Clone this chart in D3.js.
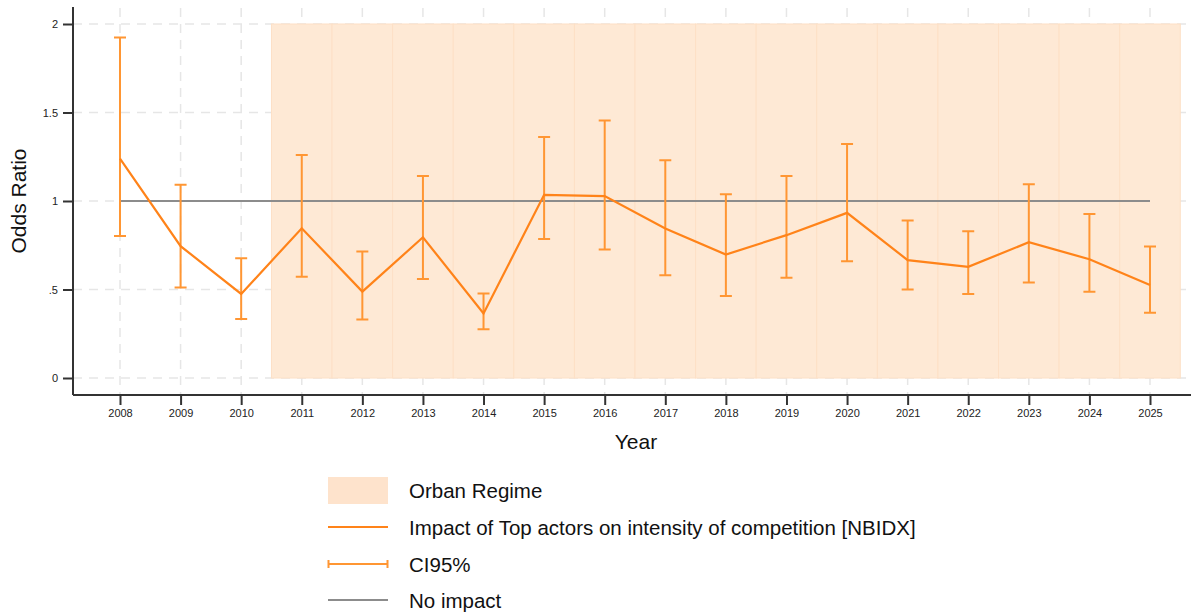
<!DOCTYPE html>
<html>
<head>
<meta charset="utf-8">
<script src="https://cdn.jsdelivr.net/npm/d3@7"></script>
<style>
body { margin: 0; background: white; }
text { font-family: Arial, "Liberation Sans", sans-serif; }
</style>
</head>
<body>
<svg id="graph1"></svg>
<script>
var years = [2008,2009,2010,2011,2012,2013,2014,2015,2016,2017,2018,2019,2020,2021,2022,2023,2024,2025]
var oddsRatio = [1.24,0.745,0.475,0.846,0.488,0.795,0.365,1.035,1.028,0.845,0.698,0.807,0.933,0.666,0.628,0.767,0.671,0.526]
var ciUpper = [1.924,1.092,0.676,1.26,0.714,1.141,0.478,1.361,1.455,1.23,1.038,1.141,1.322,0.89,0.829,1.094,0.926,0.743]
var ciLower = [0.802,0.512,0.333,0.572,0.331,0.559,0.275,0.786,0.726,0.58,0.463,0.566,0.66,0.5,0.474,0.54,0.487,0.368]
var regimeYears = [2011,2012,2013,2014,2015,2016,2017,2018,2019,2020,2021,2022,2023,2024,2025]
var yTicks = [0,0.5,1,1.5,2]
var yTickLabels = ["0",".5","1","1.5","2"]
var legendItems = ["Orban Regime","Impact of Top actors on intensity of competition [NBIDX]","CI95%","No impact"]

var svgw = 1191
var svgh = 614

var svg = d3.select("#graph1")
    .attr("width",svgw)
    .attr("height",svgh)

var xscale = d3.scaleLinear()
    .domain([2008,2025])
    .range([120,1150])

var yscale = d3.scaleLinear()
    .domain([0,2])
    .range([378,24])

var axisLeftX = 73
var axisBottomY = 395

// grid
svg.append("g")
    .selectAll("line")
    .data(years)
    .enter()
    .append("line")
    .attr("x1",function(d){return xscale(d)})
    .attr("x2",function(d){return xscale(d)})
    .attr("y1",8)
    .attr("y2",axisBottomY)
    .attr("stroke","#e6e6e6")
    .attr("stroke-width",1.5)
    .attr("stroke-dasharray","9,7")

svg.append("g")
    .selectAll("line")
    .data(yTicks)
    .enter()
    .append("line")
    .attr("x1",axisLeftX)
    .attr("x2",svgw)
    .attr("y1",function(d){return yscale(d)})
    .attr("y2",function(d){return yscale(d)})
    .attr("stroke","#e6e6e6")
    .attr("stroke-width",1.5)
    .attr("stroke-dasharray","9,7")

// regime shading
svg.append("g")
    .selectAll("rect")
    .data(regimeYears)
    .enter()
    .append("rect")
    .attr("x",function(d){return xscale(d-0.5)})
    .attr("y",yscale(2))
    .attr("width",function(d){return xscale(d+0.5)-xscale(d-0.5)})
    .attr("height",yscale(0)-yscale(2))
    .attr("fill","#fee9d5")
    .attr("stroke","#fde0c6")
    .attr("stroke-width",1)

// no impact line
svg.append("line")
    .attr("x1",xscale(years[0]))
    .attr("x2",xscale(years[years.length-1]))
    .attr("y1",yscale(1))
    .attr("y2",yscale(1))
    .attr("stroke","#8c8c8c")
    .attr("stroke-width",2.2)

// CI bars
var ci = svg.append("g")
    .attr("stroke","#ff9633")
    .attr("stroke-width",2)
    .attr("fill","none")

ci.selectAll("path")
    .data(years)
    .enter()
    .append("path")
    .attr("d",function(d,i)
    {
        var x = xscale(d)
        var yu = yscale(ciUpper[i])
        var yl = yscale(ciLower[i])
        return "M"+(x-6)+","+yu+"H"+(x+6)+"M"+x+","+yu+"V"+yl+"M"+(x-6)+","+yl+"H"+(x+6)
    })

// main line
var line = d3.line()
    .x(function(d,i){return xscale(years[i])})
    .y(function(d){return yscale(d)})

svg.append("path")
    .datum(oddsRatio)
    .attr("d",line)
    .attr("fill","none")
    .attr("stroke","#ff8319")
    .attr("stroke-width",2.2)

// axes
var yAxis = d3.axisLeft(yscale)
    .tickValues(yTicks)
    .tickFormat(function(d,i){return yTickLabels[i]})
    .tickSize(10)
    .tickPadding(5)

var gy = svg.append("g")
    .attr("transform","translate("+axisLeftX+",0)")
    .call(yAxis)
gy.select(".domain").attr("d","M0,7V"+axisBottomY).attr("stroke","#333").attr("stroke-width",2)

var xAxis = d3.axisBottom(xscale)
    .tickValues(years)
    .tickFormat(d3.format("d"))
    .tickSize(10)
    .tickPadding(4)

var gx = svg.append("g")
    .attr("transform","translate(0,"+axisBottomY+")")
    .call(xAxis)
gx.select(".domain").attr("d","M"+axisLeftX+",0H"+svgw).attr("stroke","#333").attr("stroke-width",2)

svg.selectAll(".tick line").attr("stroke","#333").attr("stroke-width",2)
svg.selectAll(".tick text")
    .attr("fill","#222")
    .style("font-size","11px")
    .style("font-family","Arial, 'Liberation Sans', sans-serif")

// labels
svg.append("text")
    .text("Year")
    .attr("text-anchor","middle")
    .attr("x",636)
    .attr("y",449)
    .style("font-size","21px")
    .attr("fill","#111")

svg.append("text")
    .attr("transform","translate(26,201) rotate(-90)")
    .text("Odds Ratio")
    .attr("text-anchor","middle")
    .style("font-size","21px")
    .attr("fill","#111")

// legend
var legend = svg.append("g")
    .attr("transform","translate(328,0)")

var rowY = [490,527,564,600]

var entries = legend.selectAll("g")
    .data(legendItems)
    .enter()
    .append("g")
    .attr("transform",function(d,i){return "translate(0,"+rowY[i]+")"})

entries.append("text")
    .text(function(d){return d})
    .attr("x",81)
    .attr("y",8)
    .style("font-size","20.5px")
    .attr("fill","#111")

entries.filter(function(d,i){return i==0})
    .append("rect")
    .attr("x",0)
    .attr("y",-13)
    .attr("width",60)
    .attr("height",27)
    .attr("fill","#fee3cc")

entries.filter(function(d,i){return i==1})
    .append("line")
    .attr("x1",0).attr("x2",60)
    .attr("stroke","#ff8319")
    .attr("stroke-width",2.2)

entries.filter(function(d,i){return i==2})
    .append("path")
    .attr("d","M0.5,-4V4M0.5,0H59.5M59.5,-4V4")
    .attr("stroke","#ff9633")
    .attr("stroke-width",2)
    .attr("fill","none")

entries.filter(function(d,i){return i==3})
    .append("line")
    .attr("x1",0).attr("x2",60)
    .attr("stroke","#8c8c8c")
    .attr("stroke-width",2.2)
</script>
</body>
</html>
